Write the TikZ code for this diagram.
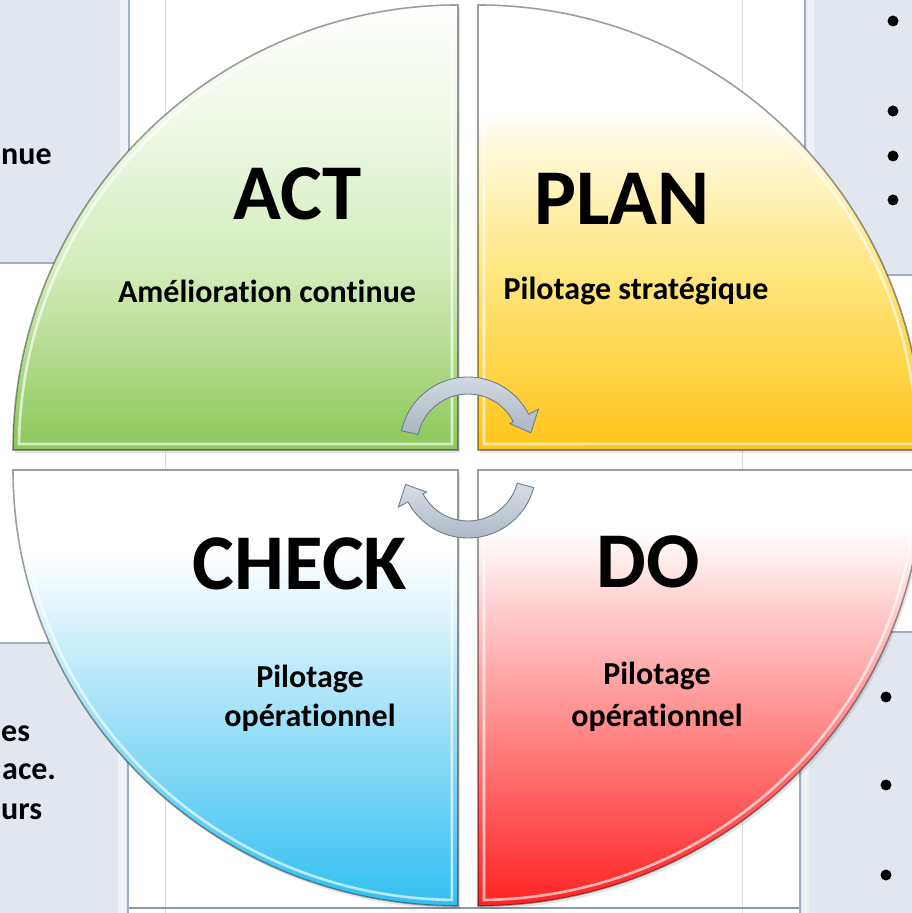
\documentclass[tikz,border=0pt]{standalone}
\usepackage{fontspec}
\setmainfont{Carlito}[Ligatures=NoCommon]
\definecolor{panel}{HTML}{E2E6EE}
\definecolor{panelstrip}{HTML}{EEF1F6}
\definecolor{panelline}{HTML}{9FAEC2}
\definecolor{gridline}{HTML}{DCDCDC}
\definecolor{bottomrule}{HTML}{8797AD}
\definecolor{actA}{HTML}{EFF8E6}
\definecolor{actB}{HTML}{D2ECB9}
\definecolor{actC}{HTML}{8CC759}
\definecolor{planA}{HTML}{FFF9DD}
\definecolor{planB}{HTML}{FFE885}
\definecolor{planC}{HTML}{FFC418}
\definecolor{checkA}{HTML}{D8F2FC}
\definecolor{checkC}{HTML}{2DBEF1}
\definecolor{doA}{HTML}{FFD2D2}
\definecolor{doC}{HTML}{FF1E1E}
\definecolor{arrowA}{HTML}{D6DDE5}
\definecolor{arrowB}{HTML}{A9B5C2}
\definecolor{arrowline}{HTML}{6F7C8A}
\tikzset{
  big/.style={font=\bfseries\fontsize{79}{79}\selectfont, inner sep=0pt, anchor=base},
  sub/.style={font=\bfseries\fontsize{32}{40}\selectfont, inner sep=0pt, anchor=base, align=center},
  side/.style={font=\bfseries\fontsize{32}{40}\selectfont, inner sep=0pt, anchor=base west},
  outline/.style={draw=black, draw opacity=0.38, line width=1.6pt},
  bevel/.style={draw=white, draw opacity=0.65, line width=2.6pt},
  shadowed/.style={fill=black, fill opacity=0.10},
  bulletdot/.style={fill=black},
  cyclearrow/.style={top color=arrowA, bottom color=arrowB, draw=arrowline, line width=0.9pt},
  actpath/.style={insert path={(458,463) -- (13,463) arc[start angle=180,end angle=90,radius=445] -- cycle}},
  actin/.style={insert path={(452,469) -- (19,469) arc[start angle=179.2,end angle=90.8,radius=439] -- cycle}},
  planpath/.style={insert path={(478,463) -- (478,908) arc[start angle=90,end angle=0,radius=445] -- cycle}},
  planin/.style={insert path={(484,469) -- (484,902) arc[start angle=89.2,end angle=0.8,radius=439] -- cycle}},
  checkpath/.style={insert path={(458,443) -- (13,443) arc[start angle=180,end angle=270,x radius=445,y radius=436] -- cycle}},
  checkin/.style={insert path={(452,437) -- (19,437) arc[start angle=180.8,end angle=269.2,x radius=439,y radius=430] -- cycle}},
  dopath/.style={insert path={(478,443) -- (478,7) arc[start angle=270,end angle=360,x radius=445,y radius=436] -- cycle}},
  doin/.style={insert path={(484,437) -- (484,13) arc[start angle=270.8,end angle=359.2,x radius=439,y radius=430] -- cycle}},
}
\begin{document}
\begin{tikzpicture}[x=1pt,y=1pt]
\useasboundingbox (0,0) rectangle (912,913);
\clip (0,0) rectangle (912,913);
\fill[white] (0,0) rectangle (912,913);

% background grid lines
\draw[gridline, line width=0.7pt] (165,0) -- (165,913);
\draw[gridline, line width=0.7pt] (742,0) -- (742,913);
\draw[bottomrule, line width=1.2pt] (128,5) -- (800,5);

% side panels
\fill[panel] (0,650) rectangle (130,913);
\fill[panelstrip] (120,651) rectangle (128,913);
\draw[panelline, line width=1.5pt] (129,650) -- (129,913);
\draw[panelline, line width=1.5pt] (0,650) -- (130,650);

\fill[panel] (805,638) rectangle (912,913);
\fill[panelstrip] (807,639) rectangle (814,913);
\draw[panelline, line width=1.5pt] (805,638) -- (805,913);
\draw[panelline, line width=1.5pt] (805,638) -- (912,638);

\fill[panel] (0,0) rectangle (128,270);
\fill[panelstrip] (118,0) rectangle (126,269);
\draw[panelline, line width=1.5pt] (128,0) -- (128,270);
\draw[panelline, line width=1.5pt] (0,270) -- (128,270);

\fill[panel] (800,0) rectangle (912,281);
\fill[panelstrip] (802,0) rectangle (809,280);
\draw[panelline, line width=1.5pt] (800,0) -- (800,281);
\draw[panelline, line width=1.5pt] (800,281) -- (912,281);

% partial side texts
\node[side] (sideA) at (1,748) {nue};
\node[side] (sideB) at (1,171) {es};
\node[side] (sideC) at (2,133) {ace.};
\node[side] (sideD) at (1,93) {urs};

% bullets
\fill[bulletdot] (893,892) circle (5.5);
\fill[bulletdot] (893,802) circle (5.5);
\fill[bulletdot] (893,757) circle (5.5);
\fill[bulletdot] (893,713) circle (5.5);
\fill[bulletdot] (886,216) circle (5.5);
\fill[bulletdot] (886,128) circle (5.5);
\fill[bulletdot] (886,38) circle (5.5);

% shadows
\begin{scope}[shift={(2,-3)}]
\path[shadowed, actpath];
\path[shadowed, planpath];
\path[shadowed, checkpath];
\path[shadowed, dopath];
\end{scope}

% ACT quadrant
\begin{scope}
\clip[actpath];
\shade[top color=white, bottom color=actA] (0,790) rectangle (470,913);
\shade[top color=actA, bottom color=actB] (0,640) rectangle (470,790);
\shade[top color=actB, bottom color=actC] (0,463) rectangle (470,640);
\path[bevel, actin];
\end{scope}
\path[outline, actpath];

% PLAN quadrant
\begin{scope}
\clip[planpath];
\fill[white] (470,800) rectangle (930,913);
\shade[top color=white, bottom color=planA] (470,770) rectangle (930,800);
\shade[top color=planA, bottom color=planB] (470,650) rectangle (930,770);
\shade[top color=planB, bottom color=planC] (470,463) rectangle (930,650);
\path[bevel, planin];
\end{scope}
\path[outline, planpath];

% CHECK quadrant
\begin{scope}
\clip[checkpath];
\fill[white] (0,360) rectangle (470,443);
\shade[top color=white, bottom color=checkA] (0,290) rectangle (470,360);
\shade[top color=checkA, bottom color=checkC] (0,0) rectangle (470,290);
\path[bevel, checkin];
\end{scope}
\path[outline, checkpath];

% DO quadrant
\begin{scope}
\clip[dopath];
\fill[white] (470,383) rectangle (930,443);
\shade[top color=white, bottom color=doA] (470,313) rectangle (930,383);
\shade[top color=doA, bottom color=doC] (470,0) rectangle (930,313);
\path[bevel, doin];
\end{scope}
\path[outline, dopath];

% titles
\node[big] (act) at (298,693) {ACT};
\node[big] (plan) at (622,688) {PLAN};
\node[big] (check) at (300,323) {CHECK};
\node[big] (do) at (648,325) {DO};

\node[sub] (actsub) at (267,610) {Amélioration continue};
\node[sub] (plansub) at (636,613) {Pilotage stratégique};
\node[sub] (checksub1) at (310,225) {Pilotage};
\node[sub] (checksub2) at (310,186) {opérationnel};
\node[sub] (dosub1) at (657,228) {Pilotage};
\node[sub] (dosub2) at (657,186) {opérationnel};

% cycle arrows
\begin{scope}[shift={(468,468)}]
\path[cyclearrow] (168:68) arc[start angle=168,end angle=27,radius=68]
  -- (27:79) -- (11:64) -- (27:47) -- (27:51)
  arc[start angle=27,end angle=168,radius=51] -- cycle;
\end{scope}
\begin{scope}[shift={(468,443)}]
\path[cyclearrow] (-15:68) arc[start angle=-15,end angle=-152,radius=68]
  -- (-152:79) -- (-167:64) -- (-152:47) -- (-152:51)
  arc[start angle=-152,end angle=-15,radius=51] -- cycle;
\end{scope}
\end{tikzpicture}
\end{document}
